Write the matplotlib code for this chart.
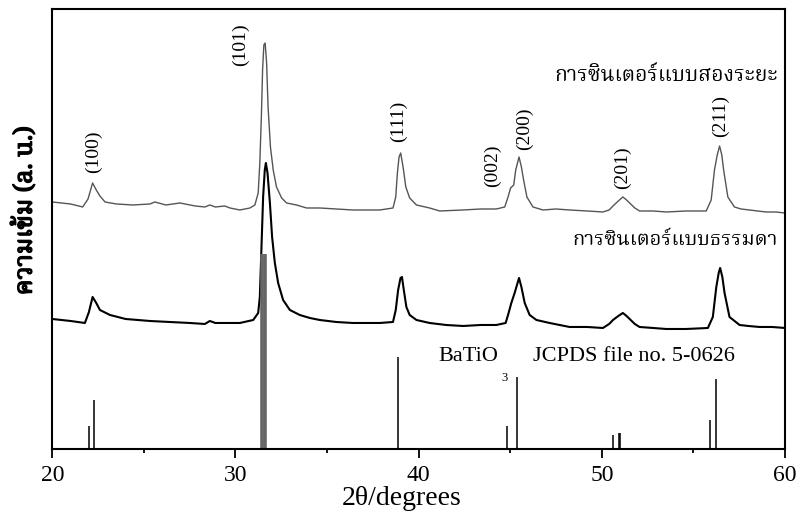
import matplotlib
matplotlib.use("Agg")
import matplotlib.pyplot as plt
import matplotlib.patheffects as pe
from matplotlib import font_manager
from matplotlib.ft2font import FT2Font

# two-step sintering scan (upper trace)
two_step_2theta = [20.0, 21.0, 21.66, 21.95, 22.20, 22.40, 22.60, 22.88, 23.5, 24.4,
                   25.33, 25.6, 26.2, 26.97, 27.8, 28.33, 28.60, 28.9, 29.42, 29.7,
                   30.24, 30.79, 31.06, 31.24, 31.33, 31.42, 31.48, 31.55, 31.62, 31.70,
                   31.78, 31.91, 32.06, 32.24, 32.52, 32.79, 33.33, 33.88, 34.60, 35.5,
                   36.40, 37.3, 37.88, 38.60, 38.75, 38.84, 38.93, 39.02, 39.15, 39.30,
                   39.51, 39.88, 40.60, 41.15, 42.42, 43.4, 44.24, 44.70, 44.88, 45.02,
                   45.19, 45.30, 45.48, 45.61, 45.73, 45.91, 46.24, 46.79, 47.5, 48.24,
                   49.2, 50.06, 50.40, 50.61, 50.90, 51.15, 51.35, 51.52, 51.80, 52.06,
                   52.8, 53.52, 54.6, 55.70, 55.97, 56.15, 56.30, 56.43, 56.55, 56.65,
                   56.88, 57.24, 57.6, 58.06, 58.5, 58.97, 59.5, 60.0]
two_step_int = [247, 245, 242, 250, 266, 259, 253, 247, 245, 244,
                245, 247, 244, 246, 243, 242, 244, 242, 243, 241,
                239, 241, 244, 256, 286, 336, 379, 404, 406, 386,
                342, 302, 279, 262, 251, 246, 244, 241, 241, 240,
                239, 239, 239, 241, 252, 276, 292, 296, 282, 262,
                251, 244, 241, 238, 239, 240, 240, 242, 252, 261,
                264, 279, 292, 282, 269, 252, 242, 239, 240, 239,
                238, 237, 239, 243, 248, 252, 249, 246, 241, 238,
                238, 237, 238, 238, 249, 279, 294, 303, 294, 279,
                252, 242, 240, 239, 238, 237, 237, 236]

# conventional sintering scan (lower trace)
normal_2theta = [20.0, 21.0, 21.78, 22.0, 22.20, 22.40, 22.60, 23.15, 24.0, 25.33,
                 26.4, 27.51, 28.33, 28.60, 28.9, 29.69, 30.24, 30.97, 31.24, 31.33,
                 31.42, 31.51, 31.60, 31.66, 31.75, 31.88, 32.00, 32.15, 32.33, 32.60,
                 32.97, 33.51, 34.06, 34.60, 35.5, 36.40, 37.3, 37.88, 38.60, 38.75,
                 38.88, 39.01, 39.09, 39.19, 39.33, 39.51, 39.88, 40.60, 41.5, 42.42,
                 43.4, 44.24, 44.75, 44.88, 45.06, 45.24, 45.48, 45.61, 45.79, 46.06,
                 46.43, 47.15, 48.24, 49.2, 50.06, 50.40, 50.61, 50.90, 51.15, 51.35,
                 51.52, 51.80, 52.06, 52.8, 53.52, 54.6, 55.79, 56.06, 56.25, 56.38,
                 56.46, 56.58, 56.70, 56.97, 57.52, 58.0, 58.61, 59.3, 60.0]
normal_int = [130, 128, 126, 137, 152, 146, 139, 134, 130, 128,
              127, 126, 125, 128, 126, 126, 126, 129, 136, 152,
              202, 252, 279, 286, 276, 246, 212, 186, 166, 149,
              139, 134, 131, 129, 127, 126, 126, 126, 127, 139,
              159, 171, 172, 159, 142, 134, 129, 126, 124, 123,
              124, 124, 126, 134, 146, 156, 171, 162, 146, 134,
              129, 126, 122, 122, 121, 125, 129, 133, 136, 133,
              130, 125, 122, 121, 120, 120, 121, 132, 162, 176,
              181, 172, 156, 132, 124, 123, 122, 122, 121]

# BaTiO3 reference lines, JCPDS 5-0626 (relative intensity)
jcpds_2theta = [22.0, 22.28, 31.45, 31.62, 38.88, 44.85, 45.37, 50.61, 50.93, 51.0, 55.92, 56.25]
jcpds_rel = [12, 25, 100, 100, 47, 12, 37, 7, 8, 8, 15, 36]

peak_labels = ["(100)", "(101)", "(111)", "(002)", "(200)", "(201)", "(211)"]


def thai_font():
    # any installed font that carries Thai glyphs, looped serif ones first
    found = []
    for f in font_manager.fontManager.ttflist:
        try:
            if FT2Font(f.fname).get_char_index(ord("ก")):
                found.append(f.name)
        except Exception:
            pass
    for pref in ["Kinnari", "Norasi", "Noto Serif Thai", "Garuda", "Loma",
                 "Noto Sans Thai Looped"]:
        if pref in found:
            return pref
    return found[0] if found else "DejaVu Sans"


THAI = thai_font()
SERIF = "Liberation Serif"

fig = plt.figure(figsize=(8.02, 5.14), dpi=100)
ax = fig.add_axes([0.0652, 0.1265, 0.9136, 0.856])

ax.plot(two_step_2theta, two_step_int, color="#555555", lw=1.0)
ax.plot(normal_2theta, normal_int, color="black", lw=1.5)

for x, r in zip(jcpds_2theta, jcpds_rel):
    thick = r >= 100
    ax.vlines(x, 0, r * 1.95, color="#666666" if thick else "black",
              lw=2.6 if thick else 1.1)

# peak indices
label_pos = [(22.27, 297), (30.29, 404), (38.91, 328), (44.04, 283),
             (45.79, 320), (51.13, 281), (56.48, 333)]
for lab, (x, y) in zip(peak_labels, label_pos):
    ax.text(x, y, lab, rotation=90, ha="center", va="center",
            fontsize=14, family=SERIF)

ax.text(59.58, 374, "การซินเตอร์แบบสองระยะ", ha="right", va="center",
        fontsize=15.2, family=[THAI, SERIF])
ax.text(59.58, 209, "การซินเตอร์แบบธรรมดา", ha="right", va="center",
        fontsize=14.5, family=[THAI, SERIF])
ax.text(41.05, 92, "BaTiO", ha="left", va="center", fontsize=16, family=SERIF)
ax.text(44.7, 71, "3", ha="center", va="center", fontsize=9, family=SERIF)
ax.text(46.23, 92, "JCPDS file no. 5-0626", ha="left", va="center",
        fontsize=16, family=SERIF)

ax.set_xlim(20, 60)
ax.set_ylim(0, 440)
ax.set_xticks([20, 30, 40, 50, 60])
ax.set_xticks([25, 35, 45, 55], minor=True)
ax.set_yticks([])
ax.tick_params(axis="x", which="major", direction="out", length=6.5, width=1.3,
               labelsize=17, pad=5)
ax.tick_params(axis="x", which="minor", direction="out", length=3, width=1.3)
for lbl in ax.get_xticklabels():
    lbl.set_family(SERIF)
for s in ax.spines.values():
    s.set_linewidth(1.5)

ax.set_xlabel("2θ/degrees", fontsize=20, family=SERIF, labelpad=0)
ax.xaxis.set_label_coords(0.477, -0.085)
# the Thai font has no bold face, so thicken the strokes instead
ax.set_ylabel("ความเข้ม (a. u.)", fontsize=18, fontweight="bold",
              family=[THAI, SERIF],
              path_effects=[pe.withStroke(linewidth=1.0, foreground="black")])
ax.yaxis.set_label_coords(-0.02, 0.541)

fig.savefig("out.png", dpi=100)
